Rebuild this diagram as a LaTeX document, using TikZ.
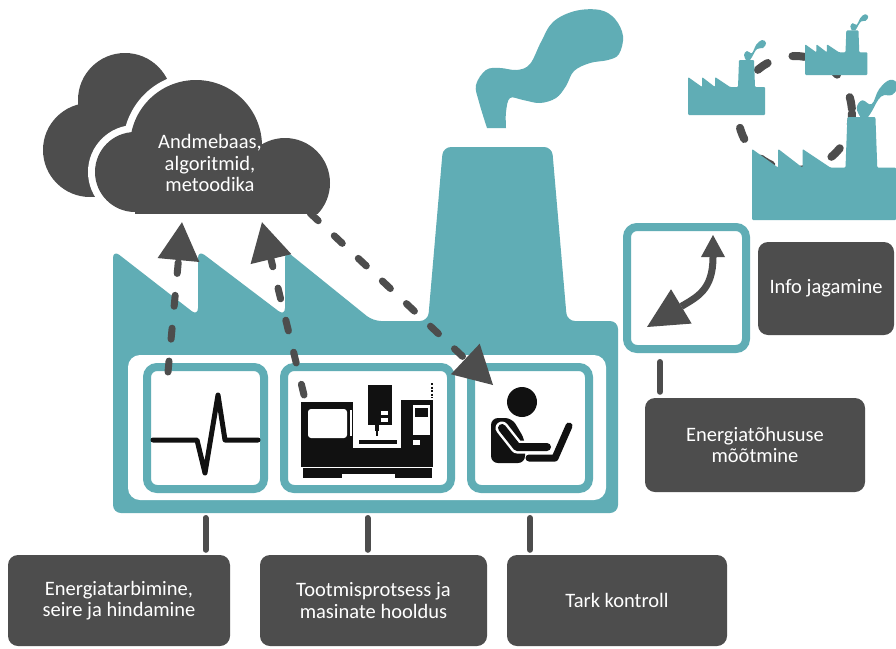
\documentclass[tikz,border=0pt]{standalone}
\usepackage{fontspec}
\setmainfont{Carlito}
\usetikzlibrary{arrows.meta}

\definecolor{tehas}{HTML}{60ADB5}
\definecolor{tume}{HTML}{4D4D4D}
\definecolor{tint}{HTML}{111111}

\tikzset{
  % small factory with chimney smoke, base at the origin
  fabrik/.pic={
    \fill[tehas, rounded corners=1pt] (0,0) -- (0,-38) -- (14,-28) -- (14,-38) -- (27,-28) -- (27,-38) -- (42,-28)
      -- (50,-28) -- (51,-55) -- (66,-55) -- (67,-28) -- (77,-28) -- (77,0) -- cycle;
    \fill[tehas] plot[smooth, tension=.7] coordinates {(58,-55) (56,-60) (59,-64) (64,-62) (68,-70) (74,-75)
      (78,-72) (75,-67) (69,-66) (64,-58) (62,-55)} -- cycle;
  }
}
% front cloud: three puffs on a flat base, grown by #2
\newcommand\pilvekuju[2]{%
  \fill[#1] (135,172) circle[radius=40+#2];
  \fill[#1] (196,146) circle[radius=66+#2];
  \fill[#1] (285,183) circle[radius=45+#2];
  \fill[#1] (135-#2,160) rectangle (285+#2,220);
}

\begin{document}
\begin{tikzpicture}[x=1pt, y=-1pt,
    panel/.style={draw=tehas, line width=8pt, rounded corners=10pt, fill=white},
    silt/.style={fill=tume, text=white, rounded corners=10pt, align=center,
      font=\fontsize{20.5}{21.5}\selectfont},
    tugi/.style={draw=tume, line width=6pt, line cap=round},
    voog/.style={draw=tume, line width=7pt, line cap=round, dash pattern=on 11pt off 22pt,
      -{Triangle[length=38pt, width=42pt, line width=0pt]}},
    ikoon/.style={draw=tint, line width=5pt, line cap=round, line join=round},
  ]
  \fill[white] (0,0) rectangle (896,648);
  \useasboundingbox (0,0) rectangle (896,648);

  % shared network of plants
  \draw[tume, line width=8pt, line cap=round, dash pattern=on 12pt off 26pt] (795,113) circle[radius=57];
  \pic at (688,115) {fabrik};
  \pic[scale=.81] at (805,75) {fabrik};
  \pic[scale=1.87] at (752,220) {fabrik};

  % main plant
  \fill[tehas] plot[smooth, tension=.6] coordinates {(487,128) (479,102) (476,85) (486,70) (500,68) (517,70)
    (530,64) (541,42) (553,22) (575,11) (600,10) (615,19) (623,36) (619,54) (608,60) (590,63) (574,71)
    (566,86) (556,98) (540,103) (523,100) (510,98) (506,112) (506,128)} -- cycle;
  \fill[tehas, rounded corners=8pt] (113,513) -- (113,250) -- (198,316) -- (198,250) -- (285,316) -- (285,250)
    -- (373,321) -- (428,321) -- (443,147) -- (552,147) -- (567,321) -- (618,321) -- (618,513) -- cycle;
  \fill[white, rounded corners=12pt] (128,355) rectangle (606,500);

  \node[panel, minimum width=117, minimum height=122] (seire) at (205.5,428) {};
  \node[panel, minimum width=167, minimum height=122] (masin) at (367.5,428) {};
  \node[panel, minimum width=118, minimum height=122] (juht) at (530,428) {};

  % pulse
  \draw[ikoon] (153,440) -- (197,440) -- (205,473) -- (218,395) -- (225,440) -- (258,440);

  % machine tool
  \fill[tint] (301,402) rectangle (353,448);
  \fill[white, rounded corners=3pt] (308,409) rectangle (347,438);
  \fill[white] (350,410) rectangle (351.5,436);
  \fill[tint] (368,385) rectangle (392,425);
  \fill[white] (381,411) rectangle (388,415);
  \fill[white] (381,418) rectangle (388,422);
  \fill[tint] (375,425) rectangle (379,431);
  \fill[tint] (376,431) rectangle (378,436);
  \fill[tint] (359,440) rectangle (397,444);
  \fill[tint] (401,400) rectangle (433,450);
  \fill[white] (413,405) rectangle (430,435);
  \fill[tint] (415,408) rectangle (428,417);
  \fill[white] (413,440) rectangle (420,445);
  \draw[tint, line width=2pt, dash pattern=on 2pt off 1.5pt] (432,383) -- (432,398);
  \fill[tint] (301,448) rectangle (433,467);
  \fill[tint] (303,468) rectangle (432,474);
  \fill[tint] (303,474) rectangle (342,478);
  \fill[tint] (395,474) rectangle (432,478);

  % operator at a laptop
  \fill[tint] (522,402) circle[radius=15];
  \fill[tint, rounded corners=7pt] (491,463) -- (491,418) -- (512,418) -- (525,440) -- (525,463) -- cycle;
  \draw[white, line width=13pt, line cap=round, line join=round] (502,428) -- (517,447) -- (547,447);
  \draw[ikoon, line width=8pt] (502,428) -- (517,447) -- (547,447);
  \draw[ikoon, line width=7pt] (529,458) -- (555,458) -- (569,426);

  % data exchange
  \node[panel, minimum width=119, minimum height=122] (teave) at (686.5,288) {};
  \draw[tume, line width=7pt, {Triangle[length=40pt, width=40pt, line width=0pt]}-{Triangle[length=22pt, width=24pt, line width=0pt]}]
    ([xshift=24pt, yshift=26pt]teave.south west) .. controls +(50,-30) and +(0,55) .. ([xshift=-37pt, yshift=-12pt]teave.north east);

  % cloud
  \begin{scope}
    \clip (0,0) rectangle (400,213);
    \fill[tume] (125,100) circle[radius=47];
    \fill[tume] (90,150) circle[radius=47];
    \fill[tume] (90,100) rectangle (160,197);
    \pilvekuju{white}{7}
    \pilvekuju{tume}{0}
  \end{scope}
  \node[text=white, align=center, font=\fontsize{20.5}{21.5}\selectfont, minimum width=200, minimum height=100]
    (pilv) at (210,163) {Andmebaas,\\algoritmid,\\metoodika};

  \draw[voog] ([xshift=25pt, yshift=-9pt]seire.north west) -- ([xshift=-28pt, yshift=-9pt]pilv.south);
  \draw[voog] ([xshift=24pt, yshift=-32pt]masin.north west) -- ([xshift=52pt, yshift=-9pt]pilv.south);
  \draw[voog] (pilv.south east) -- ([xshift=26pt, yshift=-22pt]juht.north west);

  % labels
  \node[silt, minimum width=222, minimum height=91] (tarbimine) at (119,600.5) {Energiatarbimine,\\seire ja hindamine};
  \node[silt, minimum width=227, minimum height=91] (tootmine) at (373.5,600.5) {Tootmisprotsess ja\\masinate hooldus};
  \node[silt, minimum width=220, minimum height=91] (kontroll) at (617,600.5) {Tark kontroll};
  \node[silt, minimum width=136, minimum height=93] (jagamine) at (826,288.5) {Info jagamine};
  \node[silt, minimum width=220, minimum height=94] (mootmine) at (755,445) {Energiatõhususe\\mõõtmine};

  \draw[tugi, shorten <=25pt, shorten >=5pt] (seire.south) -- (seire.south |- tarbimine.north);
  \draw[tugi, shorten <=25pt, shorten >=5pt] (masin.south) -- (masin.south |- tootmine.north);
  \draw[tugi, shorten <=25pt, shorten >=5pt] (juht.south) -- (juht.south |- kontroll.north);
  \coordinate (t1) at ([xshift=37pt]teave.south west);
  \draw[tugi, shorten <=9pt, shorten >=6pt] (t1) -- (t1 |- mootmine.north);
\end{tikzpicture}
\end{document}
